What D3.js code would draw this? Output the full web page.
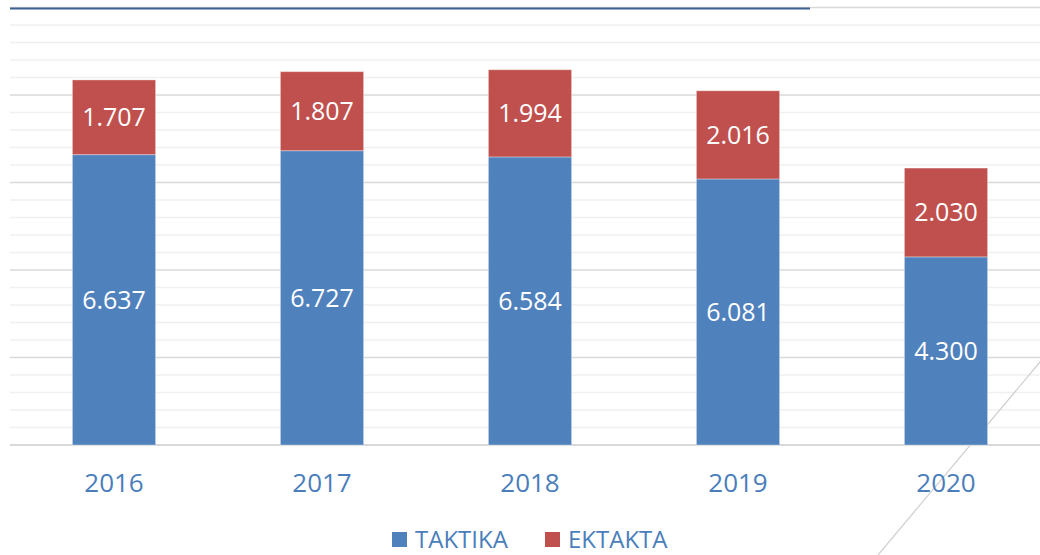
<!DOCTYPE html>
<html>
<head>
<meta charset="utf-8">
<script src="https://cdn.jsdelivr.net/npm/d3@7"></script>
<style>
  body { margin: 0; background: #fff; }
  svg { display: block; font-family: "Open Sans", sans-serif; }
</style>
</head>
<body>
<div id="chart"></div>
<script>
// data
var years = ["2016", "2017", "2018", "2019", "2020"];
var taktika = [6637, 6727, 6584, 6081, 4300];
var ektakta = [1707, 1807, 1994, 2016, 2030];
var seriesNames = ["TAKTIKA", "EKTAKTA"];
var seriesColors = ["#4f81bd", "#c0504d"];
var yMax = 10000;
var majorStep = 2000;
var minorStep = 400;

function init()
{
    var w = 1040;
    var h = 555;
    var left = 10, right = 1050, top = 7.5, base = 445;

    var svg = d3.select("#chart")
                .append("svg")
                .attr("width", w)
                .attr("height", h);

    var xScale = d3.scaleBand()
                   .domain(years)
                   .range([left, right])
                   .paddingInner(0.6)
                   .paddingOuter(0.3);

    var yScale = d3.scaleLinear()
                   .domain([0, yMax])
                   .range([base, top]);

    // minor gridlines
    svg.append("g")
       .selectAll("line")
       .data(d3.range(minorStep, yMax, minorStep).filter(function(v) { return v % majorStep != 0; }))
       .enter()
       .append("line")
       .attr("x1", left).attr("x2", w)
       .attr("y1", function(d) { return yScale(d); })
       .attr("y2", function(d) { return yScale(d); })
       .attr("stroke", "#f0f0f0")
       .attr("stroke-width", 1.5);

    // major gridlines
    svg.append("g")
       .selectAll("line")
       .data(d3.range(0, yMax + 1, majorStep))
       .enter()
       .append("line")
       .attr("x1", left).attr("x2", w)
       .attr("y1", function(d) { return yScale(d); })
       .attr("y2", function(d) { return yScale(d); })
       .attr("stroke", "#d9d9d9")
       .attr("stroke-width", function(d) { return d == 0 ? 2 : 1.5; });

    // dark top rule
    svg.append("line")
       .attr("x1", left).attr("x2", 810)
       .attr("y1", yScale(yMax) + 1).attr("y2", yScale(yMax) + 1)
       .attr("stroke", "#3a6090")
       .attr("stroke-width", 2);

    // diagonal decoration line
    svg.append("line")
       .attr("x1", 878).attr("y1", 555)
       .attr("x2", 1040).attr("y2", 362)
       .attr("stroke", "#cfcfcf")
       .attr("stroke-width", 1.2);

    var stacked = years.map(function(y, i) {
        return [
            { year: y, v: taktika[i], y0: 0, y1: taktika[i], s: 0 },
            { year: y, v: ektakta[i], y0: taktika[i], y1: taktika[i] + ektakta[i], s: 1 }
        ];
    });
    var segs = d3.merge(stacked);

    svg.append("g")
       .selectAll("rect")
       .data(segs)
       .enter()
       .append("rect")
       .attr("x", function(d) { return xScale(d.year); })
       .attr("width", xScale.bandwidth())
       .attr("y", function(d) { return yScale(d.y1); })
       .attr("height", function(d) { return yScale(d.y0) - yScale(d.y1); })
       .attr("fill", function(d) { return seriesColors[d.s]; })
       .attr("stroke", "#ffffff")
       .attr("stroke-opacity", 0.35)
       .attr("stroke-width", 1);

    var fmt = d3.formatLocale({ decimal: ",", thousands: ".", grouping: [3], currency: ["", "€"] }).format(",");

    svg.append("g")
       .selectAll("text")
       .data(segs)
       .enter()
       .append("text")
       .attr("x", function(d) { return xScale(d.year) + xScale.bandwidth() / 2; })
       .attr("y", function(d) { return (yScale(d.y0) + yScale(d.y1)) / 2; })
       .attr("dy", "0.35em")
       .attr("text-anchor", "middle")
       .attr("font-size", "25px")
       .attr("fill", "#ffffff")
       .text(function(d) { return fmt(d.v); });

    // x axis labels
    var xAxis = d3.axisBottom(xScale).tickSize(0).tickPadding(0);
    var gx = svg.append("g")
                .attr("transform", "translate(0," + base + ")")
                .call(xAxis);
    gx.select(".domain").remove();
    gx.selectAll("text")
      .attr("y", 38)
      .attr("dy", "0.35em")
      .attr("font-family", "Open Sans, sans-serif")
      .attr("font-size", "26px")
      .attr("fill", "#4a7ebb");

    // legend
    var legendX = [392, 545];
    var legend = svg.append("g")
                    .selectAll("g")
                    .data(seriesNames)
                    .enter()
                    .append("g")
                    .attr("transform", function(d, i) { return "translate(" + legendX[i] + ",532)"; });
    legend.append("rect")
          .attr("width", 15).attr("height", 15)
          .attr("fill", function(d, i) { return seriesColors[i]; });
    legend.append("text")
          .attr("x", 23)
          .attr("y", 16)
          .attr("font-size", "24px")
          .attr("fill", "#4a7ebb")
          .text(function(d) { return d; });
}
window.onload = init;
</script>
</body>
</html>
